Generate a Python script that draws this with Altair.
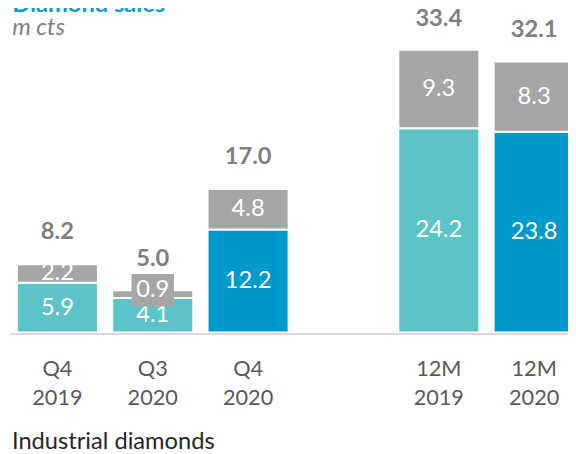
import altair as alt
import pandas as pd

# ---- data ----
periods = ["Q4 2019", "Q3 2020", "Q4 2020", "12M 2019", "12M 2020"]
gem_quality = [5.9, 4.1, 12.2, 24.2, 23.8]
industrial = [2.2, 0.9, 4.8, 9.3, 8.3]
totals = [8.2, 5.0, 17.0, 33.4, 32.1]
current_period = [False, False, True, False, True]
x_slots = ["Q4 2019", "Q3 2020", "Q4 2020", "", "12M 2019", "12M 2020"]
series = ["Gem-quality diamonds", "Gem-quality diamonds (current)", "Industrial diamonds"]

TEAL = "#5CC4C8"
BLUE = "#0099CC"
GREY = "#A6A6A6"
FONT = "Lato"

rows = []
for p, g, ind, cur in zip(periods, gem_quality, industrial, current_period):
    rows.append(dict(period=p, type=series[1] if cur else series[0],
                     y0=0.0, y1=g, mid=g / 2, value=g, label=f"{g:.1f}"))
    rows.append(dict(period=p, type=series[2],
                     y0=g, y1=g + ind, mid=g + ind / 2, value=ind, label=f"{ind:.1f}"))
seg = pd.DataFrame(rows)
seg["callout"] = seg["value"] < 1.5
tot = pd.DataFrame(dict(period=periods, total=totals, label=[f"{t:.1f}" for t in totals]))

x_enc = alt.X(
    "period:N",
    scale=alt.Scale(domain=x_slots, paddingInner=0.15, paddingOuter=0.075),
    axis=alt.Axis(
        title=None, labelAngle=0, ticks=False, labelExpr="split(datum.label, ' ')",
        labelFont=FONT, labelFontSize=22, labelColor="#595959", labelLineHeight=29,
        labelPadding=26, domainColor="#D9D9D9", domainWidth=2, offset=1, zindex=1,
    ),
)
y_scale = alt.Scale(domain=[0, 33.3], nice=False, zero=True)

base = alt.Chart(seg)

bars = base.mark_bar(stroke="white", strokeWidth=2).encode(
    x=x_enc,
    y=alt.Y("y0:Q", scale=y_scale, axis=None),
    y2="y1:Q",
    color=alt.Color(
        "type:N",
        scale=alt.Scale(domain=series, range=[TEAL, BLUE, GREY]),
        legend=alt.Legend(
            values=["Industrial diamonds"], title=None, orient="none",
            legendX=-24.75, legendY=384, padding=0,
            symbolType="square", symbolSize=225, symbolStrokeWidth=0,
            labelFont=FONT, labelFontSize=24, labelColor="#262626", labelOffset=3,
            labelLimit=0,
        ),
    ),
)

seg_labels = base.transform_filter("!datum.callout").mark_text(
    color="white", font=FONT, fontSize=24, baseline="middle"
).encode(x=x_enc, y=alt.Y("mid:Q", scale=y_scale), text="label:N")

callout_box = base.transform_filter("datum.callout").mark_point(
    shape="M-1,-0.767L1,-0.767L1,0.767L-1,0.767Z", filled=True, fill=GREY,
    opacity=1, size=43 * 43, strokeWidth=0, yOffset=-4,
).encode(x=x_enc, y=alt.Y("mid:Q", scale=y_scale))

callout_text = base.transform_filter("datum.callout").mark_text(
    color="white", font=FONT, fontSize=24, baseline="middle", dy=-4
).encode(x=x_enc, y=alt.Y("mid:Q", scale=y_scale), text="label:N")

total_labels = alt.Chart(tot).mark_text(
    color="#7F7F7F", font=FONT, fontSize=24, fontWeight="bold", baseline="middle", dy=-32
).encode(x=x_enc, y=alt.Y("total:Q", scale=y_scale), text="label:N")

chart = alt.layer(bars, seg_labels, callout_box, callout_text, total_labels).properties(
    width=580,
    height=285,
    autosize="none",
    padding={"left": 1.75, "top": 41, "right": -14, "bottom": 120},
    title=alt.TitleParams(
        text="Diamond sales", subtitle="m cts", anchor="start", frame="group",
        font=FONT, fontSize=24, fontWeight="bold", color="#0A9BD3",
        subtitleFont=FONT, subtitleFontSize=24, subtitleFontStyle="italic",
        subtitleColor="#7F7F7F", subtitlePadding=-1, offset=0, dy=33, dx=2.5,
    ),
).configure_view(stroke=None)

chart.save("out.html", embed_options={"renderer": "svg", "actions": False})
